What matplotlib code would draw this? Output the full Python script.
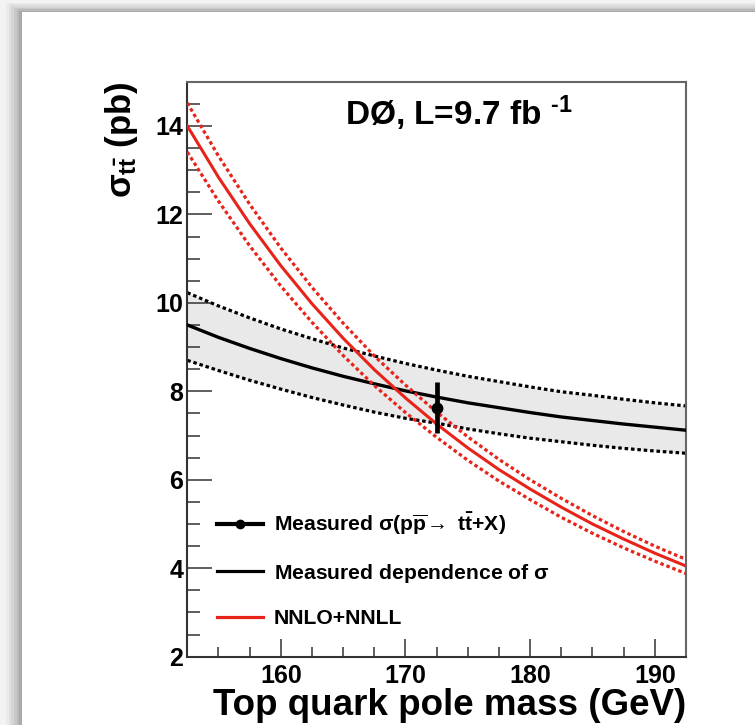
import matplotlib
matplotlib.use("Agg")
import matplotlib.pyplot as plt
from matplotlib.lines import Line2D
from matplotlib.patches import Rectangle
import numpy as np

plt.rcParams["font.family"] = ["Liberation Sans", "DejaVu Sans"]
plt.rcParams["font.weight"] = "bold"
plt.rcParams["mathtext.fontset"] = "custom"
plt.rcParams["mathtext.rm"] = "Liberation Sans:bold"
plt.rcParams["mathtext.bf"] = "Liberation Sans:bold"
plt.rcParams["mathtext.it"] = "Liberation Sans"

# top quark pole mass (GeV)
mass = [152.5, 155, 157.5, 160, 162.5, 165, 167.5, 170, 172.5,
        175, 177.5, 180, 182.5, 185, 187.5, 190, 192.5]

# measured dependence of sigma on mass, with its band
meas_sigma = [9.50, 9.22, 8.97, 8.74, 8.53, 8.34, 8.17, 8.01, 7.87,
              7.74, 7.63, 7.52, 7.42, 7.34, 7.26, 7.19, 7.12]
meas_up = [10.23, 9.93, 9.66, 9.41, 9.19, 8.98, 8.80, 8.63, 8.48,
           8.34, 8.22, 8.10, 7.99, 7.91, 7.82, 7.74, 7.67]
meas_dn = [8.70, 8.47, 8.25, 8.05, 7.86, 7.69, 7.53, 7.39, 7.28,
           7.15, 7.04, 6.94, 6.86, 6.78, 6.71, 6.65, 6.60]

# NNLO+NNLL prediction
theo_sigma = [14.00, 12.84, 11.79, 10.84, 9.98, 9.20, 8.49, 7.85, 7.26,
              6.72, 6.23, 5.79, 5.38, 5.00, 4.66, 4.34, 4.05]
theo_up = [14.52, 13.32, 12.23, 11.24, 10.35, 9.54, 8.80, 8.14, 7.53,
           6.97, 6.46, 6.00, 5.58, 5.19, 4.83, 4.50, 4.20]
theo_dn = [13.41, 12.30, 11.29, 10.38, 9.56, 8.81, 8.13, 7.52, 6.96,
           6.44, 5.97, 5.55, 5.15, 4.79, 4.46, 4.16, 3.88]

# measured point
pt_mass = 172.5
pt_sigma = 7.63
pt_err_up = 0.57
pt_err_dn = 0.58

RED = "#e8231a"
DOTS = (0, (1.1, 0.9))

fig = plt.figure(figsize=(7.55, 7.25), dpi=100)
fig.patch.set_facecolor("#f3f3f3")
# card with a soft shadow
for i, a in enumerate([0.03, 0.04, 0.05, 0.06, 0.07, 0.08]):
    fig.patches.append(Rectangle((0.008 + i * 0.0035, 0), 1, 1.0 - 0.004 - i * 0.0022,
                                 transform=fig.transFigure, color="black",
                                 alpha=a, lw=0, zorder=-3))
fig.patches.append(Rectangle((22 / 755, 0), 1, 1 - 12 / 725,
                             transform=fig.transFigure, color="white",
                             lw=0, zorder=-2))

ax = fig.add_axes([187.3 / 755, 68.3 / 725, 498.7 / 755, 575 / 725])
ax.set_facecolor("none")

ax.fill_between(mass, meas_dn, meas_up, color="#e9e9e9", lw=0, zorder=1)
ax.plot(mass, meas_up, color="black", lw=2.3, ls=DOTS, zorder=2)
ax.plot(mass, meas_dn, color="black", lw=2.3, ls=DOTS, zorder=2)
ax.plot(mass, meas_sigma, color="black", lw=2.4, zorder=3)

ax.plot(mass, theo_up, color=RED, lw=2.3, ls=DOTS, zorder=4)
ax.plot(mass, theo_dn, color=RED, lw=2.3, ls=DOTS, zorder=4)
ax.plot(mass, theo_sigma, color=RED, lw=2.2, zorder=4)

ax.errorbar([pt_mass], [pt_sigma], yerr=[[pt_err_dn], [pt_err_up]],
            fmt="o", color="black", ms=7.5, elinewidth=3.4, capsize=0, zorder=6)

ax.set_xlim(152.5, 192.5)
ax.set_ylim(2, 15)
ax.set_xticks([160, 170, 180, 190])
ax.set_xticks(np.arange(155, 192.6, 2.5), minor=True)
ax.set_yticks([2, 4, 6, 8, 10, 12, 14])
ax.set_yticks(np.arange(2, 15.01, 0.5), minor=True)
ax.tick_params(which="both", direction="in", top=False, right=False,
               labelsize=18, width=1.1, color="#333333")
ax.tick_params(axis="y", which="major", length=18, pad=3)
ax.tick_params(axis="y", which="minor", length=9)
ax.tick_params(axis="x", which="major", length=13, pad=5)
ax.tick_params(axis="x", which="minor", length=7)
for lab in ax.get_xticklabels() + ax.get_yticklabels():
    lab.set_fontweight("bold")
for s in ax.spines.values():
    s.set_color("#666666")
    s.set_linewidth(1.5)
ax.spines["left"].set_color("#333333")
ax.spines["bottom"].set_color("#333333")

ax.set_xlabel("Top quark pole mass (GeV)", fontsize=26.5, fontweight="bold",
              loc="right", labelpad=0)
ax.set_ylabel(r"$\sigma_{\mathbf{t\bar{t}}}$ (pb)", fontsize=25,
              fontweight="bold", loc="top", labelpad=0)
ax.yaxis.set_label_coords(-0.095, 1.0)

ax.text(0.316, 0.925, r"DØ, L=9.7 fb $^{\text{-1}}$", transform=ax.transAxes,
        fontsize=24, fontweight="bold", va="baseline", ha="left")

handles = [
    Line2D([], [], color="black", lw=3, marker="o", ms=6),
    Line2D([], [], color="black", lw=2.3),
    Line2D([], [], color=RED, lw=2.3),
]
labels = [
    r"Measured $\sigma(\mathbf{p\overline{p}}\!\rightarrow\ \mathbf{t\bar{t}}$+X)",
    r"Measured dependence of $\sigma$",
    "NNLO+NNLL",
]
ax.legend(handles, labels, loc="lower left", bbox_to_anchor=(0.059, 0.05),
          frameon=False, fontsize=15.2, handlelength=2.2, handletextpad=0.5,
          labelspacing=1.15, borderpad=0, borderaxespad=0)

fig.savefig("out.png", dpi=100)
